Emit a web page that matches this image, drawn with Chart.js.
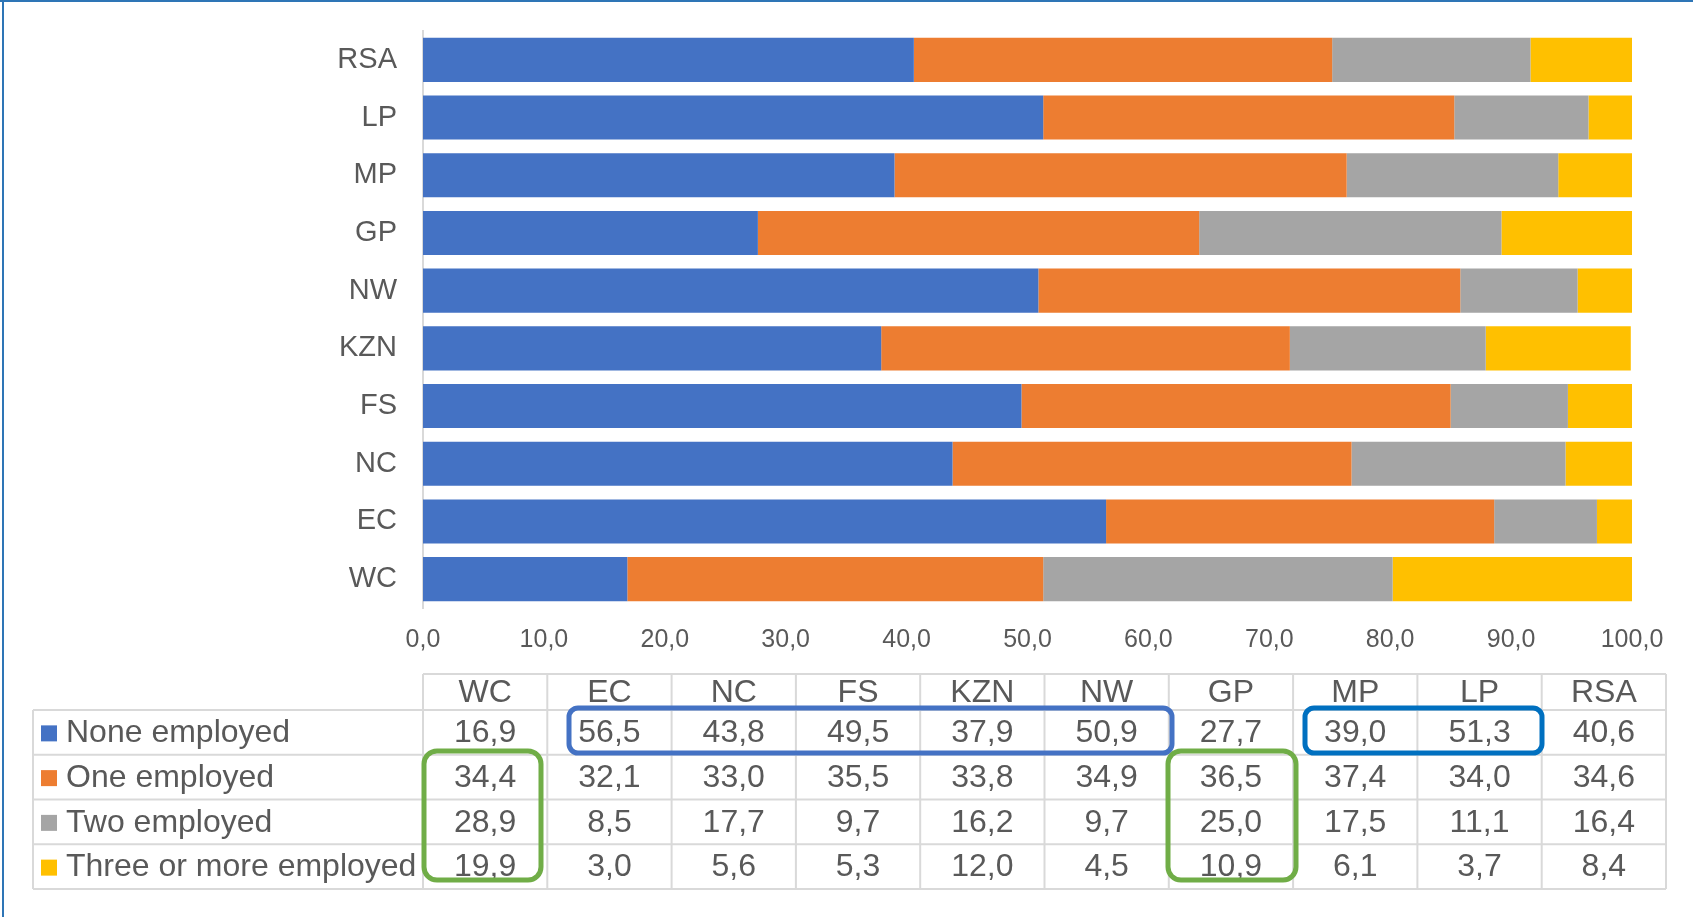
<!DOCTYPE html>
<html>
<head>
<meta charset="utf-8">
<script src="https://cdn.jsdelivr.net/npm/chart.js@4.4.1/dist/chart.umd.min.js"></script>
<style>
  html, body { margin: 0; padding: 0; background: #ffffff; }
  #wrap { position: relative; width: 1693px; height: 917px; }
</style>
</head>
<body>
<div id="wrap"><canvas id="chartEmpleo" width="1693" height="917"></canvas></div>
<script>
// provinces, bottom to top in the chart, left to right in the table
const categories = ['WC', 'EC', 'NC', 'FS', 'KZN', 'NW', 'GP', 'MP', 'LP', 'RSA'];
const seriesNames = ['None employed', 'One employed', 'Two employed', 'Three or more employed'];
const noneEmployed = [16.9, 56.5, 43.8, 49.5, 37.9, 50.9, 27.7, 39.0, 51.3, 40.6];
const oneEmployed = [34.4, 32.1, 33.0, 35.5, 33.8, 34.9, 36.5, 37.4, 34.0, 34.6];
const twoEmployed = [28.9, 8.5, 17.7, 9.7, 16.2, 9.7, 25.0, 17.5, 11.1, 16.4];
const threeEmployed = [19.9, 3.0, 5.6, 5.3, 12.0, 4.5, 10.9, 6.1, 3.7, 8.4];
const xTicks = [0, 10, 20, 30, 40, 50, 60, 70, 80, 90, 100];

const colorArray = ['#4472C4', '#ED7D31', '#A5A5A5', '#FFC000'];
const textColor = '#595959';
const fontFam = '"Liberation Sans", Arial, sans-serif';

function fmt(v) {
    return v.toFixed(1).replace('.', ',');
}

const allSeries = [noneEmployed, oneEmployed, twoEmployed, threeEmployed];
const datasetValue = [];
for (let j = 0; j < allSeries.length; j++) {
    datasetValue.push({
        label: seriesNames[j],
        data: allSeries[j],
        backgroundColor: colorArray[j],
        borderWidth: 0,
        categoryPercentage: 1,
        barPercentage: 0.765
    });
}

// data table under the chart, drawn on the same canvas
const tablaPlugin = {
    id: 'tabla',
    beforeDraw(chart) {
        const ctx = chart.ctx;
        ctx.save();
        ctx.fillStyle = '#ffffff';
        ctx.fillRect(0, 0, chart.width, chart.height);
        ctx.restore();
    },
    afterDraw(chart) {
        const ctx = chart.ctx;
        const left = 33, colStart = 423, right = 1666;
        const headTop = 674, rowTop = 710, rowH = 44.75;
        const colW = (right - colStart) / categories.length;
        const bottom = rowTop + rowH * seriesNames.length;
        ctx.save();
        // grid
        ctx.strokeStyle = '#D9D9D9';
        ctx.lineWidth = 2;
        ctx.beginPath();
        ctx.moveTo(colStart, headTop); ctx.lineTo(right, headTop);
        for (let r = 0; r <= seriesNames.length; r++) {
            const y = rowTop + r * rowH;
            ctx.moveTo(left, y); ctx.lineTo(right, y);
        }
        ctx.moveTo(left, rowTop); ctx.lineTo(left, bottom);
        for (let c = 0; c <= categories.length; c++) {
            const x = colStart + c * colW;
            ctx.moveTo(x, headTop); ctx.lineTo(x, bottom);
        }
        ctx.stroke();
        // text
        ctx.fillStyle = textColor;
        ctx.font = '32px ' + fontFam;
        ctx.textBaseline = 'middle';
        ctx.textAlign = 'center';
        for (let c = 0; c < categories.length; c++) {
            ctx.fillText(categories[c], colStart + (c + 0.5) * colW, (headTop + rowTop) / 2 + 1);
        }
        for (let r = 0; r < seriesNames.length; r++) {
            const yc = rowTop + (r + 0.5) * rowH + 1;
            ctx.fillStyle = colorArray[r];
            ctx.fillRect(41, yc - 8, 16, 16);
            ctx.fillStyle = textColor;
            ctx.textAlign = 'left';
            ctx.fillText(seriesNames[r], 66, yc);
            ctx.textAlign = 'center';
            for (let c = 0; c < categories.length; c++) {
                ctx.fillText(fmt(allSeries[r][c]), colStart + (c + 0.5) * colW, yc);
            }
        }
        // highlight boxes
        function caja(x1, y1, x2, y2, color, rad) {
            ctx.strokeStyle = color;
            ctx.lineWidth = 5;
            ctx.beginPath();
            ctx.roundRect(x1, y1, x2 - x1, y2 - y1, rad);
            ctx.stroke();
        }
        caja(569, 708, 1172, 753, '#4472C4', 9);
        caja(1305, 708, 1542, 753, '#0070C0', 9);
        caja(424, 751, 541, 880, '#70AD47', 13);
        caja(1168, 751, 1296, 880, '#70AD47', 13);
        // frame
        ctx.fillStyle = '#2E75B6';
        ctx.fillRect(0, 0, chart.width, 2);
        ctx.fillRect(2, 0, 2, chart.height);
        ctx.restore();
    }
};

const config = {
    type: 'bar',
    data: {
        labels: categories,
        datasets: datasetValue
    },
    options: {
        responsive: false,
        animation: false,
        indexAxis: 'y',
        layout: {
            padding: { top: 31, right: 61, bottom: 249, left: 0 }
        },
        plugins: {
            legend: { display: false },
            tooltip: { enabled: false }
        },
        scales: {
            x: {
                stacked: true,
                min: 0,
                max: 100,
                afterBuildTicks(scale) {
                    scale.ticks = xTicks.map(v => ({ value: v }));
                },
                afterFit(scale) { scale.height = 60; },
                grid: { display: false, drawTicks: false },
                border: { display: false },
                ticks: {
                    color: textColor,
                    font: { size: 25, family: fontFam },
                    padding: 17,
                    maxRotation: 0,
                    autoSkip: false,
                    callback: v => fmt(v)
                }
            },
            y: {
                stacked: true,
                reverse: true,
                afterFit(scale) {
                    scale.width = 423;
                    scale.paddingTop = 0;
                    scale.paddingBottom = 0;
                },
                grid: { display: false, drawTicks: false },
                border: { display: true, color: '#D9D9D9', width: 2 },
                ticks: {
                    color: textColor,
                    font: { size: 29, family: fontFam },
                    padding: 26
                }
            }
        }
    },
    plugins: [tablaPlugin]
};

const myChart = new Chart(document.getElementById('chartEmpleo'), config);
</script>
</body>
</html>
